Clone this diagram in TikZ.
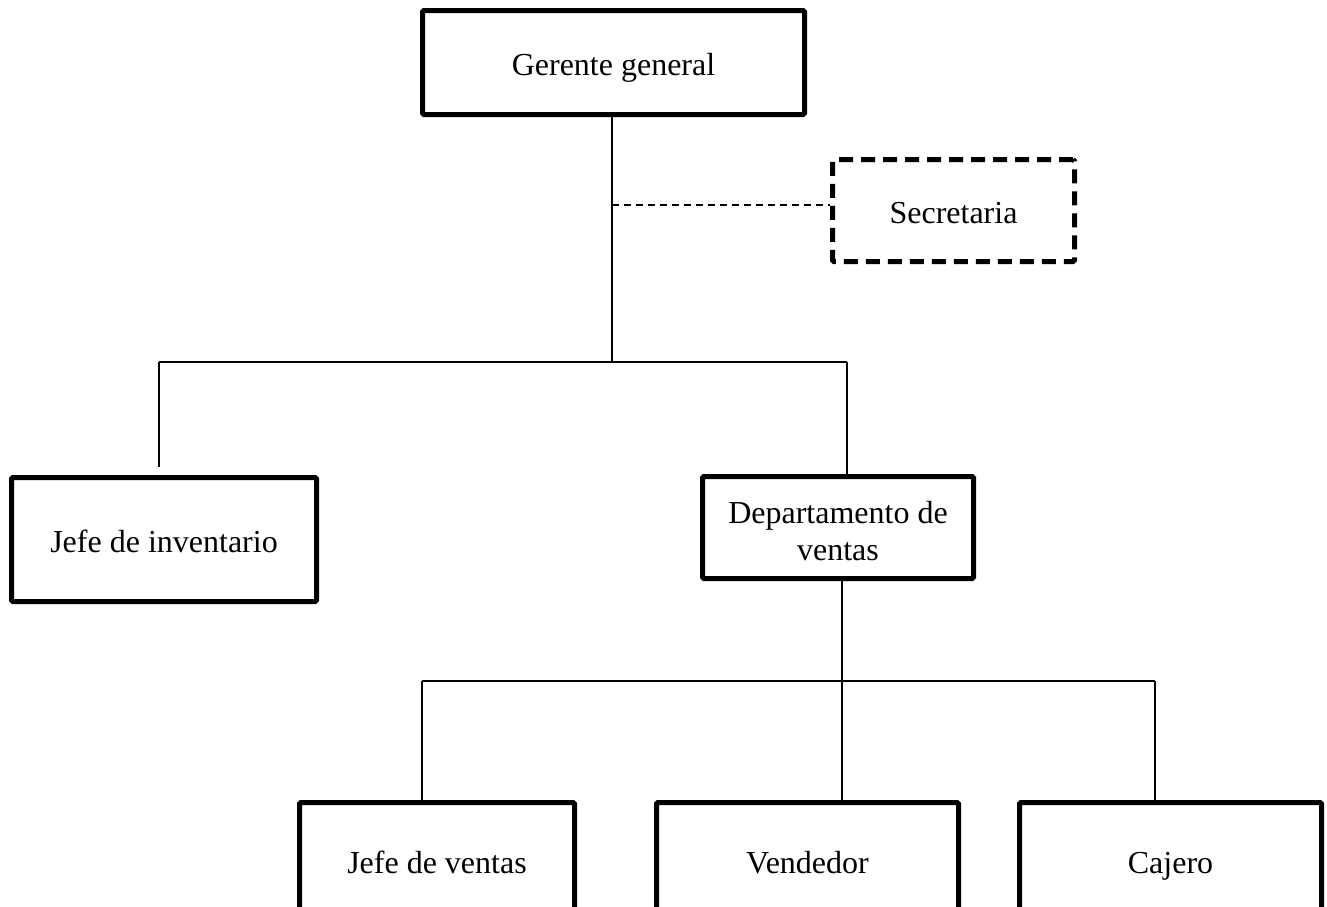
\documentclass[tikz,border=0pt]{standalone}
\usepackage{fontspec}
\setmainfont{Liberation Serif}
\begin{document}
\begin{tikzpicture}[x=1pt,y=-1pt,
  box/.style={draw=black,line width=5pt,rounded corners=1.5pt,align=center,
    font=\fontsize{32}{37}\selectfont,inner sep=0pt,fill=white},
  one/.style={text height=32pt,text depth=6pt},
  dbox/.style={box,dash pattern=on 14pt off 8pt},
  conn/.style={draw=black,line width=1.5pt},
  dconn/.style={draw=black,line width=1.3pt,dash pattern=on 7pt off 5pt}]
\useasboundingbox (0,0) rectangle (1327,906);
\clip (0,0) rectangle (1327,906);
% nodes
\node[box,one,minimum width=382pt,minimum height=104pt] (gg) at (613.5,62.5) {Gerente general};
\node[dbox,one,minimum width=242pt,minimum height=102pt] (sec) at (953.5,210.5) {Secretaria};
\node[box,one,minimum width=305pt,minimum height=124pt] (ji) at (164,539.5) {Jefe de inventario};
\node[box,minimum width=271pt,minimum height=102pt] (dep) at (838,527.5) {\rule{0pt}{29pt}Departamento de\\ventas};
\node[box,one,minimum width=275pt,minimum height=116pt] (jv) at (437,860.5) {Jefe de ventas};
\node[box,one,minimum width=302pt,minimum height=116pt] (ven) at (807.5,860.5) {Vendedor};
\node[box,one,minimum width=302pt,minimum height=116pt] (caj) at (1170.5,860.5) {Cajero};
% connectors level 1
\coordinate (j1) at (612,362);
\coordinate (s1) at (612,205);
\coordinate (L1) at (159,362);
\coordinate (R1) at (847,362);
\coordinate (L1e) at (159,467);
\draw[conn] (gg.south -| j1) -- (j1);
\draw[dconn] (s1) -- (s1 -| sec.west);
\draw[conn] (L1) -- (R1);
\draw[conn] (L1) -- (L1e);
\draw[conn] (R1) -- (R1 |- dep.north);
% connectors level 2
\coordinate (j2) at (842,681);
\coordinate (L2) at (422,681);
\coordinate (R2) at (1155,681);
\draw[conn] (dep.south -| j2) -- (j2 |- ven.north);
\draw[conn] (L2) -- (R2);
\draw[conn] (L2) -- (L2 |- jv.north);
\draw[conn] (R2) -- (R2 |- caj.north);
\end{tikzpicture}
\end{document}
